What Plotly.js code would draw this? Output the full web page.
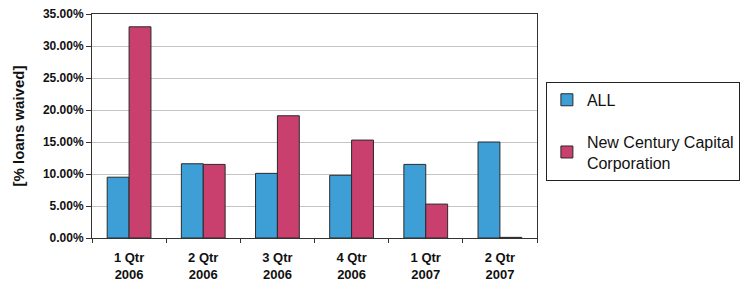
<!DOCTYPE html>
<html>
<head>
<meta charset="utf-8">
<script src="https://cdn.plot.ly/plotly-3.0.1.min.js"></script>
<style>html,body{margin:0;padding:0;background:#fff;}#chart{width:752px;height:288px;}</style>
</head>
<body>
<div id="chart"></div>
<script>
var categories = ["1 Qtr<br>2006", "2 Qtr<br>2006", "3 Qtr<br>2006", "4 Qtr<br>2006", "1 Qtr<br>2007", "2 Qtr<br>2007"];
var allValues = [0.095, 0.116, 0.101, 0.098, 0.115, 0.150];
var nccValues = [0.330, 0.115, 0.191, 0.153, 0.053, 0.001];
var seriesNames = ["ALL", "New Century Capital<br>Corporation"];
var yTicks = [0, 0.05, 0.10, 0.15, 0.20, 0.25, 0.30, 0.35];

var font = "Liberation Sans, Arial, sans-serif";

var traces = [
  {type: "bar", x: categories, y: allValues, name: seriesNames[0], legendgroup: "a",
   marker: {color: "#3d9fd6", line: {color: "#2a2a2a", width: 1}}},
  {type: "bar", x: categories, y: nccValues, name: seriesNames[1], legendgroup: "b",
   marker: {color: "#c9406e", line: {color: "#2a2a2a", width: 1}}}
];

var layout = {
  width: 752, height: 288,
  margin: {l: 92, r: 209, t: 14, b: 50, pad: 0},
  paper_bgcolor: "#fff", plot_bgcolor: "#fff",
  barmode: "group", bargap: 0.41, bargroupgap: 0,
  showlegend: true,
  font: {family: font, color: "#111"},
  xaxis: {
    type: "category",
    tickson: "boundaries", ticks: "outside", ticklen: 4, tickcolor: "#333",
    showline: true, linecolor: "#333", linewidth: 1, mirror: true,
    showgrid: false, ticklabelstandoff: 7,
    tickfont: {family: font, size: 13, color: "#111", weight: "bold"}
  },
  yaxis: {
    range: [0, 0.35], tickvals: yTicks, tickformat: ".2%",
    ticks: "outside", ticklen: 5, tickcolor: "#333",
    showline: true, linecolor: "#333", linewidth: 1, mirror: true,
    showgrid: true, gridcolor: "#c4c4c4", gridwidth: 1, zeroline: false,
    tickfont: {family: font, size: 12, color: "#111", weight: "bold"},
    title: {text: "[% loans waived]", font: {family: font, size: 15, color: "#111", weight: "bold"}, standoff: 14}
  },
  legend: {
    x: 1.02, xanchor: "left", y: 0.697, yanchor: "top",
    bordercolor: "#222", borderwidth: 1, bgcolor: "#fff",
    font: {family: font, size: 16, color: "#111"},
    tracegroupgap: 18, traceorder: "grouped", itemwidth: 30
  }
};

Plotly.newPlot("chart", traces, layout, {displayModeBar: false, staticPlot: true});
</script>
</body>
</html>
